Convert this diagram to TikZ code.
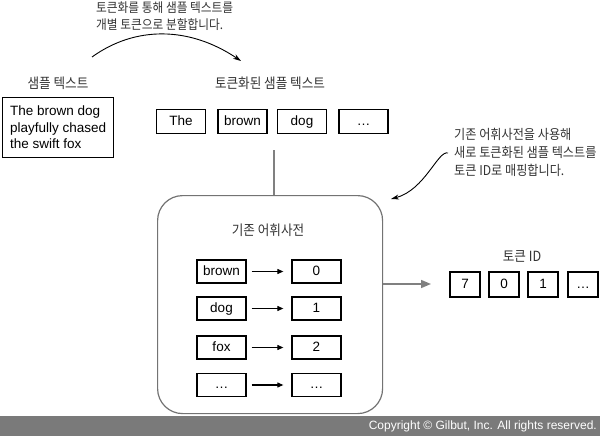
\documentclass[tikz,border=0pt]{standalone}
\usepackage{fontspec}
\setmainfont{Liberation Sans}
\newfontfamily\kr[FakeStretch=0.9]{Noto Sans CJK KR}
\usetikzlibrary{positioning,arrows.meta}
\definecolor{bargray}{HTML}{7A7A7A}
\definecolor{linegray}{HTML}{808080}

\begin{document}
\begin{tikzpicture}[x=1pt,y=-1pt,
        tok/.style={draw,line width=1.3pt,minimum width=49pt,minimum height=24pt,inner sep=0pt,text height=9.8pt,text depth=2.8pt,font=\fontsize{13.5}{16}\selectfont},
        idbox/.style={tok,minimum width=30pt,minimum height=25pt},
        lbl/.style={font=\kr\fontsize{14}{16}\selectfont,text=black!80,inner sep=0pt},
        note/.style={lbl,align=left,anchor=west,font=\kr\fontsize{13.5}{17.5}\selectfont},
        maparrow/.style={line width=1.1pt,-{Triangle[length=6pt,width=5pt]}}]
    \useasboundingbox (0,0) rectangle (600,436);

    % notes
    \node[note,font=\kr\fontsize{13}{16.5}\selectfont] (splitnote) at (96,16) {토큰화를 통해 샘플 텍스트를\\개별 토큰으로 분할합니다.};
    \node[note,font=\kr\fontsize{13.5}{18}\selectfont] (mapnote) at (454,152) {기존 어휘사전을 사용해\\새로 토큰화된 샘플 텍스트를\\토큰 ID로 매핑합니다.};

    % sample text
    \node[lbl] (samplelbl) at (58,83) {샘플 텍스트};
    \node[draw,line width=1.3pt,align=left,anchor=north west,minimum width=111pt,minimum height=60pt,inner xsep=6pt,inner ysep=4pt,font=\fontsize{13.5}{16.5}\selectfont] (sample) at (2,97) {The brown dog\\playfully chased\\the swift fox};

    % tokens
    \node[lbl] (toklbl) at (270,83) {토큰화된 샘플 텍스트};
    \node[tok] (tThe) at (181,121.5) {The};
    \node[tok] (tbrown) at (242.5,121.5) {brown};
    \node[tok] (tdog) at (302,121.5) {dog};
    \node[tok] (tdots) at (363.5,121.5) {\dots};

    % vocabulary
    \node[draw=linegray!90!black,line width=1.2pt,rounded corners=25pt,minimum width=225pt,minimum height=218pt,anchor=north west] (vocab) at (157,195) {};
    \node[lbl] (vocablbl) at (268,230) {기존 어휘사전};
    \foreach \w/\i/\y [count=\k] in {brown/0/271.5,dog/1/308.5,fox/2/347.5,\dots/\dots/385}{
        \node[tok,minimum height=23pt] (w\k) at (221.5,\y) {\w};
        \node[tok,minimum height=23pt] (i\k) at (316.5,\y) {\i};
        \draw[maparrow,shorten <=5pt,shorten >=8pt] (w\k) -- (i\k);
    }

    % token ids
    \node[lbl] (idlbl) at (522,256) {토큰 ID};
    \node[idbox] (id7) at (465,284.5) {7};
    \node[idbox] (id0) at (504,284.5) {0};
    \node[idbox] (id1) at (543,284.5) {1};
    \node[idbox] (iddots) at (583,284.5) {\dots};

    % connectors
    \coordinate (tokdown) at (274,150);
    \draw[linegray,line width=1.5pt] (tokdown) -- (tokdown |- vocab.north);
    \coordinate (idin) at (431,284);
    \draw[linegray,line width=1.5pt,-{Triangle[length=10pt,width=8pt]}] (idin -| vocab.east) -- (idin);
    \coordinate (splitfrom) at (92,57);
    \coordinate (splitto) at (241,61);
    \draw[line width=0.9pt,-{Stealth[length=8pt,width=5pt]}] (splitfrom) .. controls (135,26) and (189,26) .. (splitto);
    \coordinate (mapfrom) at (448,153);
    \coordinate (mapto) at (391,199);
    \draw[line width=0.9pt,-{Stealth[length=8pt,width=5pt]}] (mapfrom) .. controls (438,150) and (425,190) .. (mapto);

    % footer
    \fill[bargray] (0,416) rectangle (600,436);
    \node[anchor=east,text=white,inner sep=0pt,font=\fontsize{12}{14}\selectfont] (copy) at (597,426.5) {Copyright \textcopyright\ Gilbut, Inc. All rights reserved.};
\end{tikzpicture}
\end{document}
